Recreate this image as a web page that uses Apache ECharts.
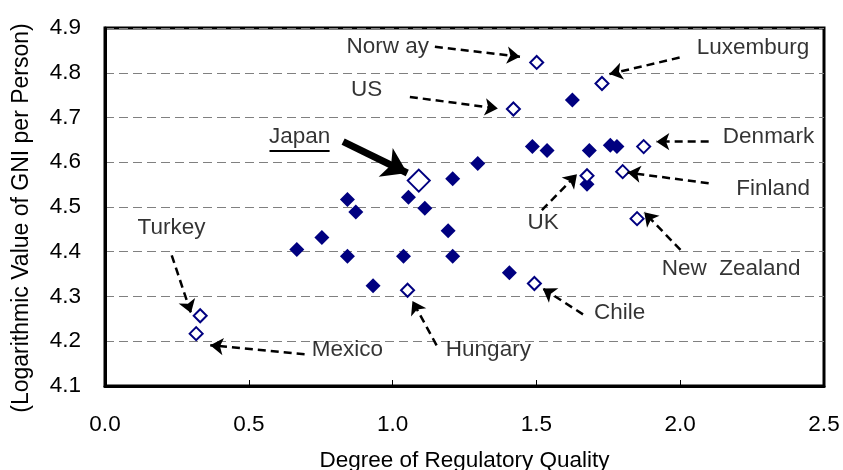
<!DOCTYPE html>
<html>
<head>
<meta charset="utf-8">
<script src="https://cdn.jsdelivr.net/npm/echarts@6/dist/echarts.min.js"></script>
<style>
  html, body { margin: 0; padding: 0; background: #fff; }
  #chart { width: 843px; height: 470px; }
</style>
</head>
<body>
<div id="chart"></div>
<script>
// Regulatory quality vs. log GNI per person — other countries (filled)
const otherQuality = [0.843, 0.872, 0.754, 0.667, 0.843, 1.038, 0.932, 1.055, 1.112, 1.209, 1.296,
                      1.193, 1.209, 1.406, 1.486, 1.537, 1.625, 1.684, 1.676, 1.757, 1.780];
const otherLogGni  = [4.517, 4.489, 4.432, 4.405, 4.390, 4.390, 4.324, 4.522, 4.497, 4.563, 4.597,
                      4.447, 4.390, 4.353, 4.635, 4.626, 4.739, 4.626, 4.551, 4.638, 4.635];

// Named countries (hollow)
const namedCountries = ['Norway', 'Luxemburg', 'US', 'Denmark', 'Finland', 'UK', 'New Zealand',
                        'Chile', 'Hungary', 'Turkey', 'Mexico'];
const namedQuality   = [1.501, 1.728, 1.420, 1.873, 1.800, 1.676, 1.850, 1.493, 1.052, 0.331, 0.317];
const namedLogGni    = [4.823, 4.776, 4.719, 4.635, 4.579, 4.570, 4.474, 4.329, 4.314, 4.257, 4.217];

// Japan
const japanQuality = [1.091];
const japanLogGni  = [4.559];

// Axis ticks
const xTicks = [0.0, 0.5, 1.0, 1.5, 2.0, 2.5];
const yTicks = [4.1, 4.2, 4.3, 4.4, 4.5, 4.6, 4.7, 4.8, 4.9];

// Callout labels: text, anchor (data coords)
const calloutText = ['Norw ay', 'Luxemburg', 'US', 'Japan', 'Denmark', 'Finland', 'UK',
                     'New  Zealand', 'Chile', 'Hungary', 'Mexico', 'Turkey'];
const calloutX = [0.983, 2.253, 0.910, 0.677, 2.307, 2.323, 1.523, 2.177, 1.789, 1.333, 0.843, 0.231];
const calloutY = [4.858, 4.855, 4.761, 4.657, 4.657, 4.540, 4.465, 4.361, 4.263, 4.181, 4.180, 4.453];

// Dashed leader arrows: start -> tip
const arrowFrom = [[1.147, 4.858], [1.998, 4.834], [1.060, 4.746], [2.099, 4.646], [2.099, 4.553],
                   [1.519, 4.493], [2.001, 4.404], [1.662, 4.260], [1.153, 4.191], [0.694, 4.171],
                   [0.232, 4.392]];
const arrowTo   = [[1.443, 4.836], [1.754, 4.797], [1.366, 4.720], [1.917, 4.646], [1.817, 4.577],
                   [1.641, 4.573], [1.875, 4.488], [1.522, 4.318], [1.069, 4.290], [0.366, 4.191],
                   [0.299, 4.263]];
// Bold arrow pointing at Japan, and the underline beneath its label
const japanArrow = [[0.828, 4.646], [1.051, 4.576]];
const japanUnderline = [[0.572, 4.626], [0.781, 4.626]];

const NAVY = '#000080';
const FONT = '"Liberation Sans", Arial, sans-serif';

const zip = (xs, ys) => xs.map((x, i) => [x, ys[i]]);

const chart = echarts.init(document.getElementById('chart'), null, { renderer: 'canvas' });

chart.setOption({
  animation: false,
  backgroundColor: '#fff',
  textStyle: { fontFamily: FONT },
  grid: {
    left: 105, right: 19, top: 28, bottom: 84,
    containLabel: false, outerBoundsMode: 'none',
    show: true, borderColor: '#000', borderWidth: 3, backgroundColor: 'transparent'
  },
  xAxis: {
    type: 'value',
    min: xTicks[0], max: xTicks[xTicks.length - 1], interval: 0.5,
    name: 'Degree of Regulatory Quality',
    nameLocation: 'middle', nameGap: 63,
    nameTextStyle: { fontSize: 22.5, color: '#000', fontFamily: FONT },
    axisLine: { show: true, lineStyle: { color: '#000', width: 3 } },
    axisTick: { show: true, inside: true, length: 6, lineStyle: { color: '#000', width: 1 } },
    axisLabel: { fontSize: 22.5, color: '#000', margin: 27, fontFamily: FONT,
                 formatter: v => v.toFixed(1) },
    splitLine: { show: false }
  },
  yAxis: {
    type: 'value',
    min: yTicks[0], max: yTicks[yTicks.length - 1], interval: 0.1,
    name: '(Logarithmic Value of GNI per Person)',
    nameLocation: 'middle', nameGap: 72, nameRotate: 90,
    nameTextStyle: { fontSize: 23, color: '#000', fontFamily: FONT, padding: [0, 22, 0, 0] },
    axisLine: { show: true, lineStyle: { color: '#000', width: 3 } },
    axisTick: { show: false },
    axisLabel: { fontSize: 22.5, color: '#000', margin: 24, fontFamily: FONT,
                 formatter: v => v.toFixed(1) },
    splitLine: { show: true, lineStyle: { color: '#808080', width: 1, type: [9, 5] } }
  },
  series: [
    {
      name: 'Other',
      type: 'scatter',
      symbol: 'diamond',
      symbolSize: 15,
      itemStyle: { color: NAVY, opacity: 1 },
      data: zip(otherQuality, otherLogGni),
      silent: true
    },
    {
      name: 'Named',
      type: 'scatter',
      symbol: 'diamond',
      symbolSize: 13,
      itemStyle: { color: '#fff', borderColor: NAVY, borderWidth: 2, opacity: 1 },
      data: zip(namedQuality, namedLogGni).map((p, i) => ({ name: namedCountries[i], value: p })),
      silent: true,
      z: 3
    },
    {
      name: 'Japan',
      type: 'scatter',
      symbol: 'diamond',
      symbolSize: 22,
      itemStyle: { color: '#fff', borderColor: NAVY, borderWidth: 2, opacity: 1 },
      data: zip(japanQuality, japanLogGni),
      silent: true,
      z: 3
    },
    {
      // Callout text and leader arrows
      name: 'Callouts',
      type: 'scatter',
      symbolSize: 0,
      silent: true,
      z: 4,
      data: calloutText.map((t, i) => ({ name: t, value: [calloutX[i], calloutY[i]] })),
      label: {
        show: true, position: 'inside', formatter: p => p.name,
        fontSize: 22.5, color: '#000', fontFamily: FONT
      },
      markLine: {
        silent: true,
        animation: false,
        symbol: ['none', 'arrow'],
        symbolSize: 13,
        label: { show: false },
        emphasis: { disabled: true },
        lineStyle: { color: '#000', width: 2.5, type: [8, 5], opacity: 1 },
        data: arrowFrom.map((f, i) => [
          { coord: f, symbol: 'none' },
          { coord: arrowTo[i], symbol: 'arrow', symbolSize: 13 }
        ]).concat([
          [
            { coord: japanArrow[0], symbol: 'none', lineStyle: { type: 'solid', width: 7 } },
            { coord: japanArrow[1], symbol: 'arrow', symbolSize: 24 }
          ],
          [
            { coord: japanUnderline[0], symbol: 'none', lineStyle: { type: 'solid', width: 2 } },
            { coord: japanUnderline[1], symbol: 'none' }
          ]
        ])
      }
    }
  ]
});
</script>
</body>
</html>
